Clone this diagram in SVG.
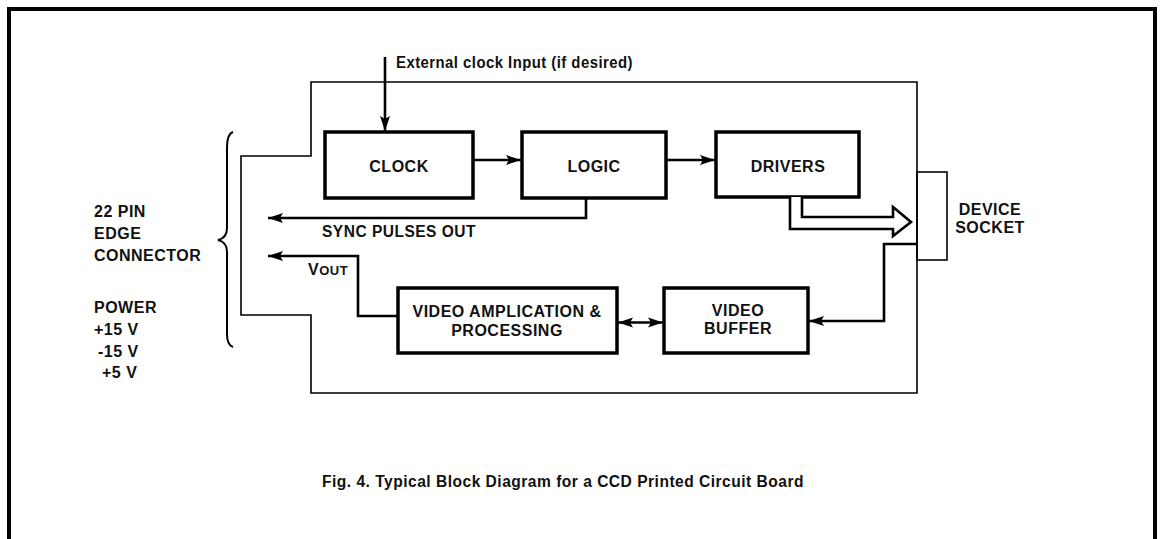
<svg xmlns="http://www.w3.org/2000/svg" width="1160" height="539" viewBox="0 0 1160 539">
<style>
.frame{fill:none;stroke:#000;stroke-width:4}
.board{fill:none;stroke:#000;stroke-width:1.6}
.box{fill:#fff;stroke:#000;stroke-width:3.5}
.wire{fill:none;stroke:#000;stroke-width:2.6}
.t{font-family:"Liberation Sans",Arial,sans-serif;font-weight:bold;font-size:16px;letter-spacing:0.5px;fill:#111}
.c{text-anchor:middle}
</style>
<defs>
<marker id="ah" markerUnits="userSpaceOnUse" markerWidth="16" markerHeight="12" refX="15" refY="6" orient="auto-start-reverse">
<path d="M0,1 L15,6 L0,11 L3,6 Z" fill="#000"/>
</marker>
</defs>
<rect class="frame" x="9" y="9" width="1146" height="560"/>
<g id="board">
<path class="board" d="M311,82 H917 V393 H311 V315 H241 V156 H311 Z"/>
</g>
<g id="socket">
<rect class="board" x="917" y="172" width="30" height="88"/>
<text class="t c" x="990" y="215">DEVICE</text>
<text class="t c" x="990" y="233">SOCKET</text>
</g>
<g id="brace">
<path d="M233,132 Q227,134 227,148 V228 Q227,238 218,240 Q227,242 227,252 V334 Q227,345 233,347" fill="none" stroke="#000" stroke-width="2"/>
</g>
<g id="edge-label">
<text class="t" x="94" y="217">22 PIN</text>
<text class="t" x="94" y="239">EDGE</text>
<text class="t" x="94" y="261">CONNECTOR</text>
<text class="t" x="94" y="313">POWER</text>
<text class="t" x="94" y="335">+15 V</text>
<text class="t" x="98" y="357">-15 V</text>
<text class="t" x="102" y="378">+5 V</text>
</g>
<g id="clock">
<rect class="box" x="325" y="132" width="148" height="66"/>
<text class="t c" x="399" y="172">CLOCK</text>
</g>
<g id="logic">
<rect class="box" x="522" y="132" width="144" height="66"/>
<text class="t c" x="594" y="172">LOGIC</text>
</g>
<g id="drivers">
<rect class="box" x="716" y="132" width="143" height="65"/>
<text class="t c" x="788" y="172">DRIVERS</text>
</g>
<g id="video-amp">
<rect class="box" x="398" y="288" width="219" height="65"/>
<text class="t c" x="507" y="317">VIDEO AMPLICATION &amp;</text>
<text class="t c" x="507" y="336">PROCESSING</text>
</g>
<g id="video-buffer">
<rect class="box" x="664" y="288" width="144" height="65"/>
<text class="t c" x="738" y="316">VIDEO</text>
<text class="t c" x="738" y="334">BUFFER</text>
</g>
<g id="connectors">
<line class="wire" x1="385" y1="57" x2="385" y2="131" marker-end="url(#ah)"/>
<line class="wire" x1="473" y1="160" x2="521" y2="160" marker-end="url(#ah)"/>
<line class="wire" x1="666" y1="160" x2="715" y2="160" marker-end="url(#ah)"/>
<polyline class="wire" points="586,198 586,218 268,218" marker-end="url(#ah)"/>
<polyline class="wire" points="398,316 358,316 358,256 268,256" marker-end="url(#ah)"/>
<line class="wire" x1="618" y1="322.5" x2="663" y2="322.5" marker-start="url(#ah)" marker-end="url(#ah)"/>
<polyline class="wire" points="917,244 884,244 884,321 809,321" marker-end="url(#ah)"/>
<path d="M790,197 V229 H893 V236 L911,222 L893,207 V217 H802 V197" fill="#fff" stroke="#000" stroke-width="2.6" stroke-linejoin="miter"/>
</g>
<g id="labels">
<text class="t" x="396" y="68" font-size="15" textLength="237" lengthAdjust="spacingAndGlyphs">External clock Input (if desired)</text>
<text class="t" x="322" y="237" textLength="154" lengthAdjust="spacingAndGlyphs">SYNC PULSES OUT</text>
<text class="t" x="308" y="275">V<tspan font-size="13">OUT</tspan></text>
<text class="t" x="322" y="487" font-size="18" textLength="482" lengthAdjust="spacingAndGlyphs">Fig. 4. Typical Block Diagram for a CCD Printed Circuit Board</text>
</g>
</svg>
